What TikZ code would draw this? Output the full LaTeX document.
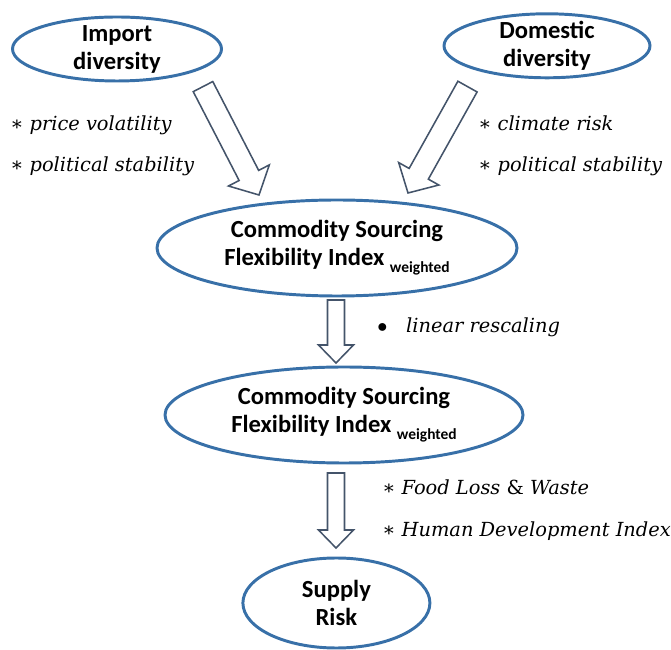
\documentclass[tikz,border=0pt]{standalone}
\usepackage{fontspec}
\newfontfamily\calibri{Carlito}
\newfontfamily\serifa{DejaVu Serif}
\usetikzlibrary{shapes.geometric, calc}
\definecolor{azulelipse}{RGB}{56,112,168}
\definecolor{cinzaseta}{RGB}{68,84,106}

% Seta em bloco: #1 inicio, #2 ponta, #3 meia haste, #4 meia cabeca, #5 comprimento da cabeca
\newcommand{\setabloco}[5]{%
  \draw[bloco] ($(#1)!#3!90:(#2)$) -- ($(#2)!#5!(#1)!#3!-90:(#1)$)
    -- ($(#2)!#5!(#1)!#4!-90:(#1)$) -- (#2)
    -- ($(#2)!#5!(#1)!#4!90:(#1)$) -- ($(#2)!#5!(#1)!#3!90:(#1)$)
    -- ($(#1)!#3!-90:(#2)$) -- cycle;
}
% Asterisco dos rotulos
\newcommand{\marca}{{\upshape ∗}}

\begin{document}
\begin{tikzpicture}[
    elipse/.style={ellipse, draw=azulelipse, line width=2.1pt, inner sep=0pt, inner ysep=-2mm,
        align=center, font=\calibri\bfseries\fontsize{17.5}{19.9}\selectfont},
    bloco/.style={draw=cinzaseta, line width=1.1pt, fill=white, line join=miter},
    rotulo/.style={anchor=base west, inner sep=0pt, font=\serifa\itshape\fontsize{13.8}{16}\selectfont}
]
    \useasboundingbox (0,0) rectangle (16.775,16.225);

    % Indicadores de diversidade
    \node[elipse, minimum width=5.225cm, minimum height=1.6cm] (imp) at (2.925,15.0) {Import\\diversity};
    \node[elipse, minimum width=5.15cm, minimum height=1.6cm] (dom) at (13.675,15.08) {Domestic\\diversity};

    % Indice ponderado e reescalonado
    \node[elipse, minimum width=9.0cm, minimum height=2.4cm] (csf1) at (8.425,10.025)
        {Commodity Sourcing\\Flexibility Index \raisebox{-0.28em}{\fontsize{11}{11}\selectfont weighted}};
    \node[elipse, minimum width=8.95cm, minimum height=2.4cm] (csf2) at (8.6,5.85)
        {Commodity Sourcing\\Flexibility Index \raisebox{-0.28em}{\fontsize{11}{11}\selectfont weighted}};

    % Resultado final
    \node[elipse, minimum width=4.675cm, minimum height=2.25cm] (risco) at (8.41,1.15) {Supply\\Risk};

    % Pontas das setas
    \coordinate (imp-a) at (5.075,14.06);
    \coordinate (imp-b) at (6.475,11.35);
    \coordinate (dom-a) at (11.6875,14.06);
    \coordinate (dom-b) at (10.2,11.4);
    \coordinate (csf-a) at (8.4,8.725);
    \coordinate (csf-b) at (8.4,7.15);
    \coordinate (ris-a) at (8.4,4.4);
    \coordinate (ris-b) at (8.4,2.525);

    % Setas em bloco
    \setabloco{imp-a}{imp-b}{0.275cm}{0.575cm}{0.55cm}
    \setabloco{dom-a}{dom-b}{0.275cm}{0.575cm}{0.55cm}
    \setabloco{csf-a}{csf-b}{0.2125cm}{0.4375cm}{0.45cm}
    \setabloco{ris-a}{ris-b}{0.2125cm}{0.4375cm}{0.45cm}

    % Rotulos das setas
    \node[rotulo] (r1) at (0.25,12.95) {\marca\ price volatility};
    \node[rotulo] (r2) at (0.25,11.925) {\marca\ political stability};
    \node[rotulo] (r3) at (11.95,12.95) {\marca\ climate risk};
    \node[rotulo] (r4) at (11.95,11.925) {\marca\ political stability};
    \node[rotulo] (r5) at (9.425,7.9) {$\bullet$\hspace{0.47cm}linear rescaling};
    \node[rotulo] (r6) at (9.55,3.85) {\marca\ Food Loss {\upshape\&} Waste};
    \node[rotulo] (r7) at (9.55,2.8) {\marca\ Human Development Index};

\end{tikzpicture}
\end{document}
